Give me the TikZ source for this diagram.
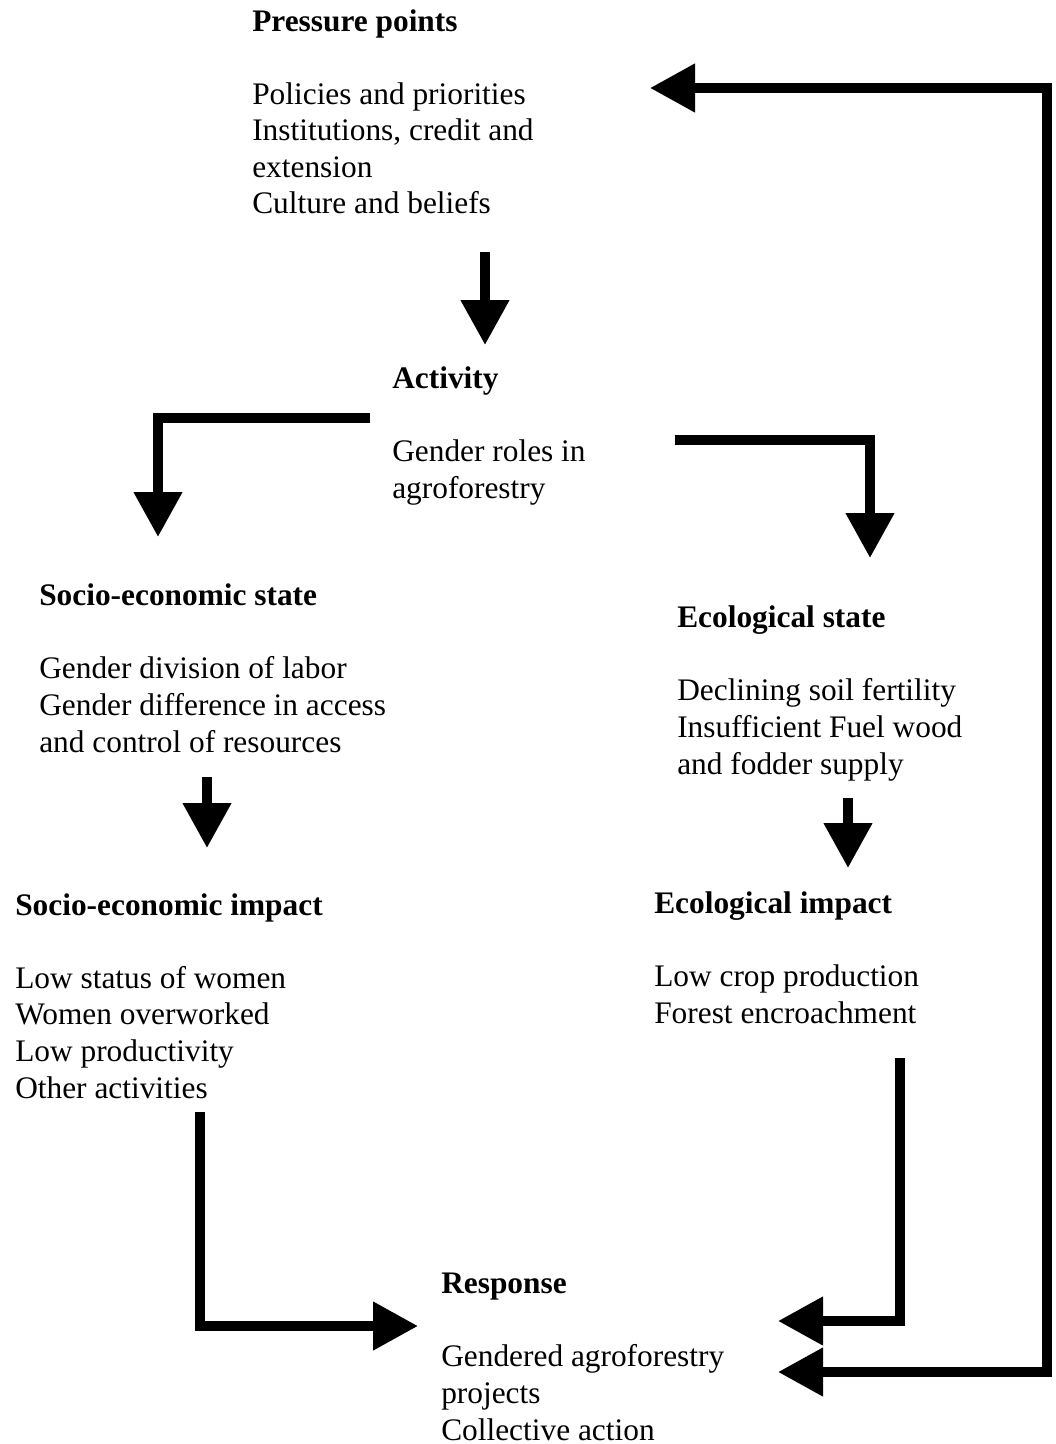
\documentclass[tikz,border=0pt]{standalone}
\usepackage{fontspec}
\setmainfont{Liberation Serif}
\usepackage{tikz}
\usetikzlibrary{arrows.meta}

\tikzset{
  block/.style={anchor=base west,inner sep=0pt,align=left,font=\fontsize{22.3pt}{26pt}\selectfont},
  flow/.style={line width=6.8pt,line join=miter,-{Triangle[width=33pt,length=32pt]}},
}
\newcommand{\blocktitle}[1]{\textbf{#1}\\[26pt]}

\begin{document}
\begin{tikzpicture}[x=0.025cm,y=-0.025cm]
      \useasboundingbox (0,0) rectangle (1055,1444);
      % blocks are placed by the baseline of their last line
      \node[block] (pressure) at (252,214) {\blocktitle{Pressure points}Policies and priorities\\Institutions, credit and\\extension\\Culture and beliefs};
      \node[block] (activity) at (392,498) {\blocktitle{Activity}Gender roles in\\agroforestry};
      \node[block] (socstate) at (39,752) {\blocktitle{Socio-economic state}Gender division of labor\\Gender difference in access\\and control of resources};
      \node[block] (ecostate) at (677,774) {\blocktitle{Ecological state}Declining soil fertility\\Insufficient Fuel wood\\and fodder supply};
      \node[block] (socimpact) at (15,1098) {\blocktitle{Socio-economic impact}Low status of women\\Women overworked\\Low productivity\\Other activities};
      \node[block] (ecoimpact) at (654,1023) {\blocktitle{Ecological impact}Low crop production\\Forest encroachment};
      \node[block] (response) at (441,1440) {\blocktitle{Response}Gendered agroforestry\\projects\\Collective action};
      % arrow ends
      \coordinate (pa) at (485,252);
      \coordinate (ap) at (485,345);
      \coordinate (as) at (370,418);
      \coordinate (sa) at (158,537);
      \coordinate (ae) at (675,440);
      \coordinate (ea) at (870,558);
      \coordinate (ss) at (207,777);
      \coordinate (si) at (207,848);
      \coordinate (es) at (848,798);
      \coordinate (ei) at (848,868);
      \coordinate (sr) at (200,1112);
      \coordinate (rs) at (418,1326);
      \coordinate (er) at (900,1058);
      \coordinate (re) at (778,1321);
      \coordinate (rb) at (778,1372);
      \coordinate (pb) at (650,88);
      \foreach \a/\b in {pa/ap,ss/si,es/ei}
      \draw[flow] (\a) -- (\b);
      \draw[flow] (as) -| (sa);
      \draw[flow] (ae) -| (ea);
      \draw[flow] (sr) |- (rs);
      \draw[flow] (er) |- (re);
      \draw[flow,{Triangle[width=33pt,length=32pt]}-{Triangle[width=33pt,length=32pt]}] (rb) -- (1047,1372) -- (1047,88) -- (pb);
\end{tikzpicture}
\end{document}
